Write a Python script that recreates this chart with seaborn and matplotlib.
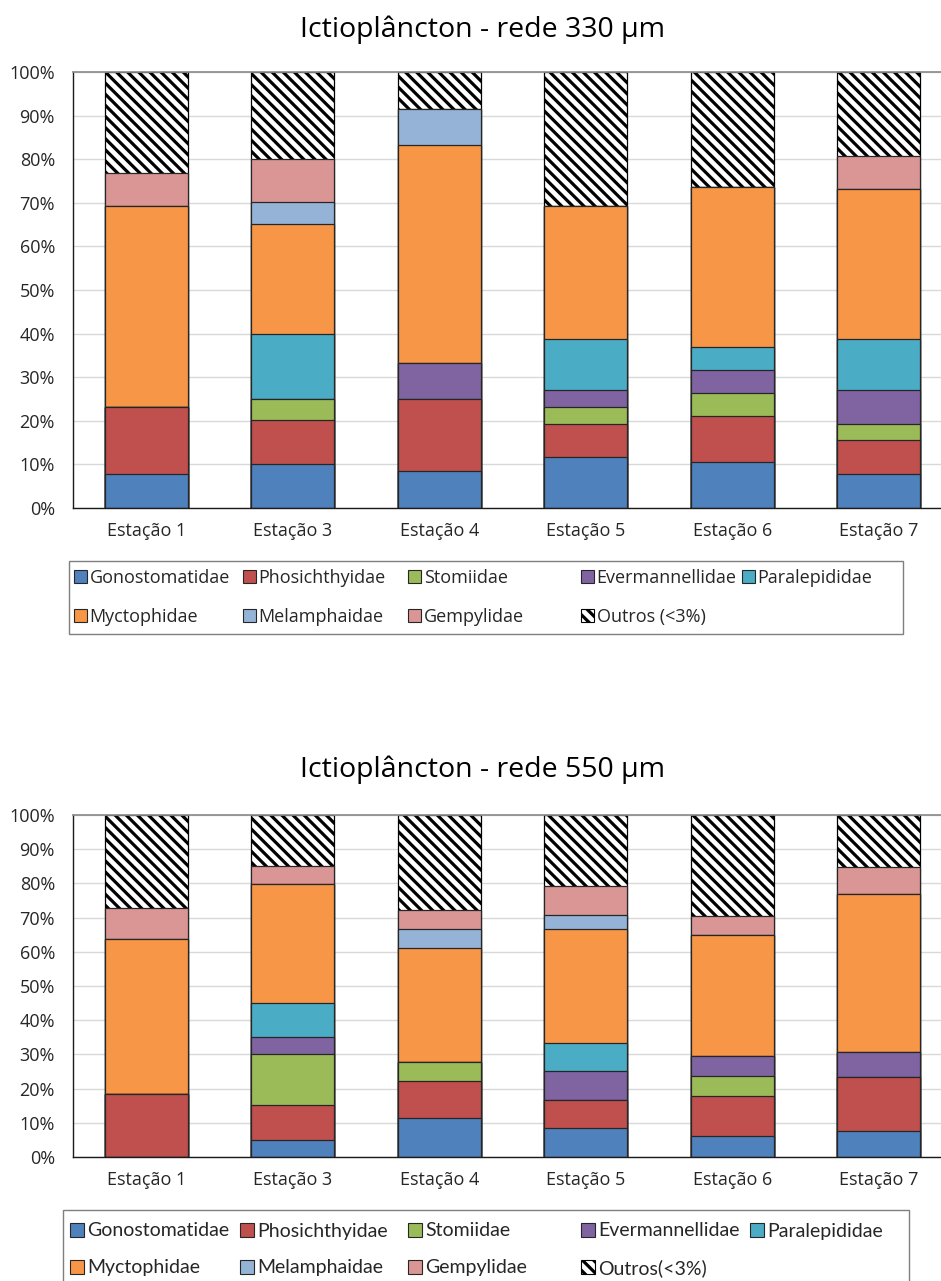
import matplotlib
matplotlib.use("Agg")
import matplotlib.pyplot as plt
import seaborn as sns
import numpy as np
from matplotlib.patches import Patch, Rectangle
from matplotlib.ticker import PercentFormatter

# ---- data (percent composition per station) ----
stations = ["Estação 1", "Estação 3", "Estação 4", "Estação 5", "Estação 6", "Estação 7"]
families = ["Gonostomatidae", "Phosichthyidae", "Stomiidae", "Evermannellidae",
            "Paralepididae", "Myctophidae", "Melamphaidae", "Gempylidae"]
family_colors = ["#4F81BD", "#C0504D", "#9BBB59", "#8064A2",
                 "#4BACC6", "#F79646", "#95B3D7", "#D99694"]

# net 330 µm
gono_330 = [7.8, 10.1, 8.5, 11.6, 10.5, 7.8]
phos_330 = [15.3, 10.0, 16.5, 7.7, 10.6, 7.8]
stom_330 = [0.0, 4.9, 0.0, 3.8, 5.2, 3.7]
everm_330 = [0.0, 0.0, 8.3, 4.0, 5.3, 7.8]
paral_330 = [0.0, 15.0, 0.0, 11.6, 5.3, 11.6]
myct_330 = [46.2, 25.2, 50.0, 30.5, 36.8, 34.4]
melam_330 = [0.0, 5.0, 8.3, 0.0, 0.0, 0.0]
gemp_330 = [7.6, 9.8, 0.0, 0.0, 0.0, 7.7]
outros_330 = [23.1, 20.0, 8.4, 30.8, 26.3, 19.2]

# net 550 µm
gono_550 = [0.0, 5.1, 11.3, 8.4, 6.0, 7.7]
phos_550 = [18.5, 10.1, 11.0, 8.4, 11.8, 15.7]
stom_550 = [0.0, 14.9, 5.5, 0.0, 5.8, 0.0]
everm_550 = [0.0, 4.9, 0.0, 8.4, 5.9, 7.4]
paral_550 = [0.0, 10.0, 0.0, 8.1, 0.0, 0.0]
myct_550 = [45.2, 34.9, 33.3, 33.3, 35.3, 46.2]
melam_550 = [0.0, 0.0, 5.6, 4.3, 0.0, 0.0]
gemp_550 = [9.0, 5.2, 5.5, 8.4, 5.8, 7.8]
outros_550 = [27.3, 14.9, 27.8, 20.7, 29.4, 15.2]

layers_330 = [gono_330, phos_330, stom_330, everm_330, paral_330,
              myct_330, melam_330, gemp_330, outros_330]
layers_550 = [gono_550, phos_550, stom_550, everm_550, paral_550,
              myct_550, melam_550, gemp_550, outros_550]

# ---- style ----
sns.set_theme(style="white")
plt.rcParams["font.family"] = ["Open Sans", "DejaVu Sans"]
plt.rcParams["hatch.linewidth"] = 2.3

W, H = 941, 1281
fig = plt.figure(figsize=(W / 100, H / 100), dpi=100)


def fx(px):
    return px / W


def fy(py):
    return 1 - py / H


TEXT = "#262626"
HATCH = "\\\\\\"


def stacked_panel(rect_px, layers, title, title_y, font, fs_tick, fs_title):
    left, top, right, bottom = rect_px
    ax = fig.add_axes([fx(left), fy(bottom), fx(right - left), (bottom - top) / H])
    cum = np.cumsum(np.array(layers), axis=0)
    cum[-1] = 100.0
    # draw from the top layer down so each shorter bar covers the one below it
    for i in range(len(layers) - 1, -1, -1):
        if i == len(layers) - 1:
            sns.barplot(x=stations, y=cum[i], order=stations, color="white",
                        saturation=1, width=0.567, edgecolor="black", linewidth=0.9,
                        hatch=HATCH, errorbar=None, ax=ax)
        else:
            sns.barplot(x=stations, y=cum[i], order=stations, color=family_colors[i],
                        saturation=1, width=0.567, edgecolor="#262626", linewidth=0.9,
                        errorbar=None, ax=ax)
    ax.set_ylim(0, 100)
    ax.set_xlim(-0.5, len(stations) - 0.5)
    ax.set_yticks(np.arange(0, 101, 10))
    ax.yaxis.set_major_formatter(PercentFormatter(decimals=0))
    ax.yaxis.grid(True, color="#d9d9d9", linewidth=1.0)
    ax.set_axisbelow(True)
    ax.set_xlabel("")
    ax.set_ylabel("")
    ax.tick_params(axis="both", length=0, colors=TEXT, labelsize=fs_tick)
    ax.tick_params(axis="y", pad=13)
    ax.tick_params(axis="x", pad=10)
    for lab in ax.get_xticklabels() + ax.get_yticklabels():
        lab.set_family(font)
    for side in ("left", "bottom"):
        ax.spines[side].set_color("#1a1a1a")
        ax.spines[side].set_linewidth(1.0)
    ax.spines["top"].set_color("#8c8c8c")
    ax.spines["right"].set_visible(False)
    fig.text(fx(483), fy(title_y), title, ha="center", va="center",
             fontsize=fs_title, color="black", family=font)
    return ax


def legend_block(box_px, col_x, row_y, font, fs, outros_text):
    x0, y0, x1, y1 = box_px
    fig.patches.append(Rectangle((fx(x0), fy(y1)), fx(x1 - x0), (y1 - y0) / H,
                                 transform=fig.transFigure, fill=False,
                                 edgecolor="#7f7f7f", linewidth=1.0))
    handles = [Patch(facecolor=c, edgecolor="#262626", linewidth=0.8)
               for c in family_colors]
    handles.append(Patch(facecolor="white", edgecolor="black", linewidth=0.8, hatch=HATCH))
    labels = families + [outros_text]
    for k, (h, l) in enumerate(zip(handles, labels)):
        r, c = divmod(k, 5)
        fig.legend(handles=[h], labels=[l], loc="center left",
                   bbox_to_anchor=(fx(col_x[c]), fy(row_y[r])),
                   frameon=False, handlelength=0.72, handleheight=0.72,
                   handletextpad=0.15, borderpad=0, borderaxespad=0,
                   prop={"family": font, "size": fs}, labelcolor=TEXT)


stacked_panel((73, 72, 952, 508), layers_330, "Ictioplâncton - rede 330 µm", 30,
              "Open Sans", 13, 20.5)
legend_block((69, 561, 903, 634), [74, 243, 408, 581, 742], [578, 617],
             "Open Sans", 13, "Outros (<3%)")

stacked_panel((73, 815, 952, 1157), layers_550, "Ictioplâncton - rede 550 µm", 770,
              "Open Sans", 13, 20.5)
legend_block((63, 1210, 909, 1292), [70, 240, 408, 581, 750], [1231, 1268],
             "Lato", 14, "Outros(<3%)")

fig.savefig("out.png", dpi=100)
